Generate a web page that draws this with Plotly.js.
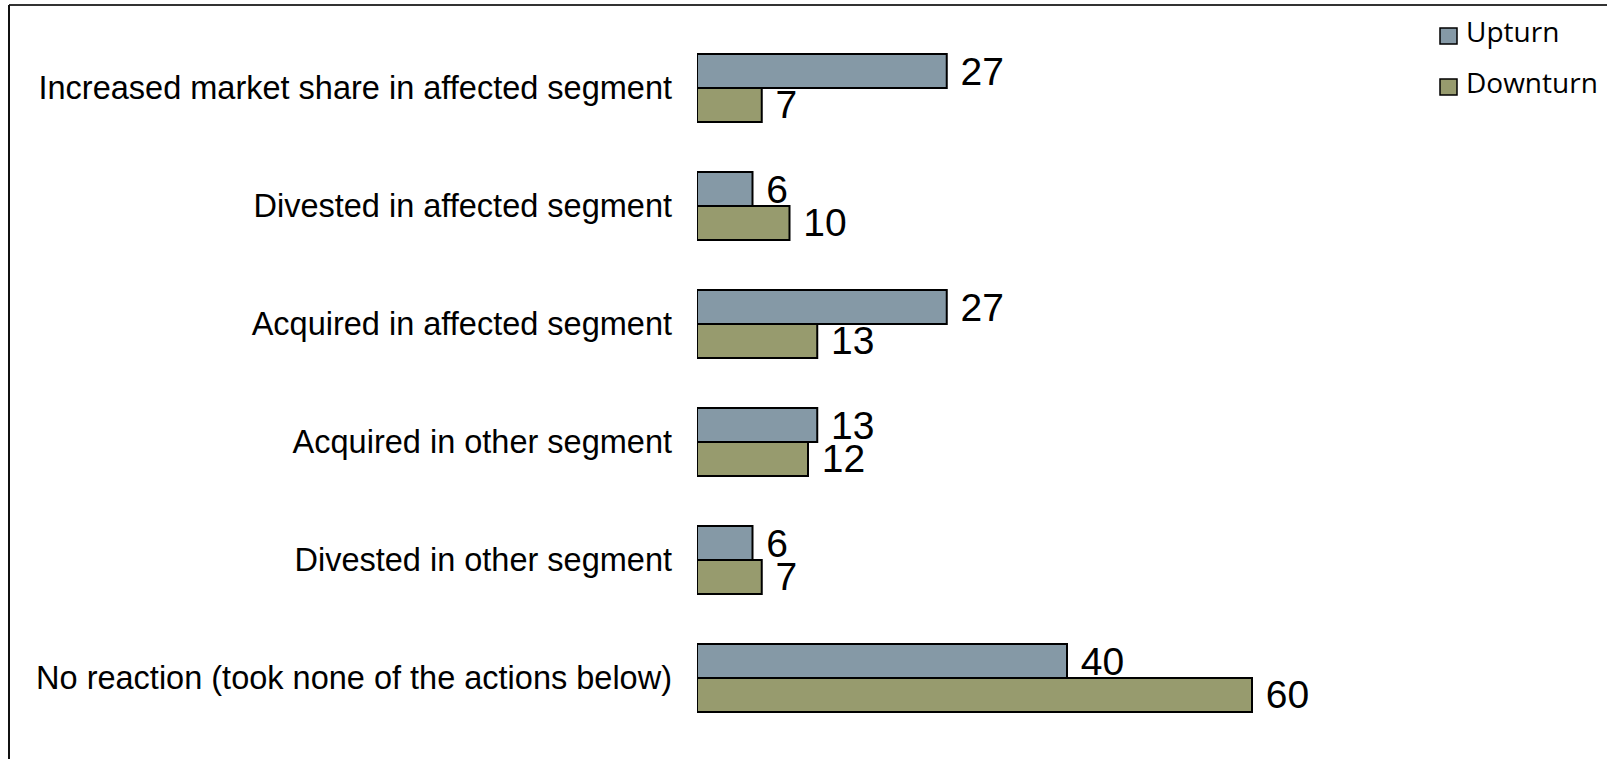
<!DOCTYPE html>
<html><head><meta charset="utf-8">
<script src="https://cdn.plot.ly/plotly-3.0.1.min.js"></script>
<style>html,body{margin:0;padding:0;background:#fff;overflow:hidden;} #chart{width:1607px;height:759px;}</style>
</head><body><div id="chart"></div>
<script>
const categories = [
  "Increased market share in affected segment",
  "Divested in affected segment",
  "Acquired in affected segment",
  "Acquired in other segment",
  "Divested in other segment",
  "No reaction (took none of the actions below)"
];
const upturn = [27, 6, 27, 13, 6, 40];
const downturn = [7, 10, 13, 12, 7, 60];
const seriesNames = ["Upturn", "Downturn"];
const seriesColors = ["#8599A6", "#979B6E"];
const seriesValues = [upturn, downturn];

const W = 1607, H = 759;
const M = {l: 697, r: 307, t: 29, b: 22};
const pw = W - M.l - M.r, ph = H - M.t - M.b;
const px2x = p => (p - M.l) / pw;
const px2y = p => 1 - (p - M.t) / ph;

const labelFont = {family: "Liberation Sans, Arial, sans-serif", size: 39, color: "#000"};

const traces = seriesValues.map((vals, i) => ({
  type: "bar", orientation: "h",
  x: vals, y: categories,
  name: seriesNames[i],
  marker: {color: seriesColors[i], line: {color: "#000", width: 2}},
  text: vals.map(v => "\u00a0" + v),
  textposition: "outside", textfont: labelFont,
  constraintext: "none", cliponaxis: false,
  hoverinfo: "x+name"
}));

// legend drawn as shapes + annotations for exact sizing
const legendShapes = [], legendAnns = [];
seriesNames.forEach((nm, i) => {
  const yc = 36 + 51 * i;
  legendShapes.push({type: "rect", xref: "paper", yref: "paper",
    x0: px2x(1440), x1: px2x(1457), y0: px2y(yc - 8), y1: px2y(yc + 8),
    fillcolor: seriesColors[i], line: {color: "#000", width: 1.5}});
  legendAnns.push({xref: "paper", yref: "paper", x: px2x(1464), y: px2y(31 + 51 * i),
    xanchor: "left", yanchor: "middle", showarrow: false, text: nm,
    font: {family: "Open Sans, sans-serif", size: 28, color: "#000"}});
});

const layout = {
  width: W, height: H,
  margin: M,
  paper_bgcolor: "#fff", plot_bgcolor: "#fff",
  barmode: "group", bargap: 0.424, bargroupgap: 0,
  font: {family: "Liberation Sans, Arial, sans-serif", color: "#000"},
  showlegend: false,
  xaxis: {range: [0, pw / 9.25], showgrid: false, zeroline: false, showline: false,
          showticklabels: false, ticks: "", fixedrange: true},
  yaxis: {type: "category", categoryorder: "array", categoryarray: categories,
          range: [5.5, -0.5], showgrid: false, zeroline: false, showline: false,
          ticks: "", ticklabelstandoff: 24,
          tickfont: {family: "Liberation Sans, Arial, sans-serif", size: 32.5, color: "#000"},
          fixedrange: true},
  annotations: legendAnns,
  shapes: [
    {type: "line", xref: "paper", yref: "paper", x0: px2x(9), x1: px2x(W + 5), y0: px2y(5), y1: px2y(5),
     line: {color: "#333", width: 2}},
    {type: "line", xref: "paper", yref: "paper", x0: px2x(9), x1: px2x(9), y0: px2y(5), y1: px2y(H + 5),
     line: {color: "#111", width: 2}}
  ].concat(legendShapes)
};

Plotly.newPlot("chart", traces, layout, {displayModeBar: false, staticPlot: true});
</script>
</body></html>
